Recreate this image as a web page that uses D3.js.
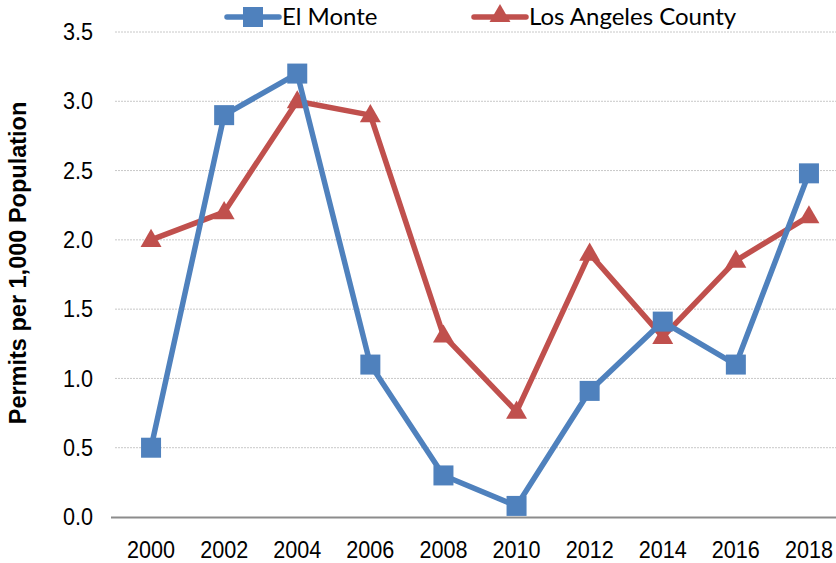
<!DOCTYPE html>
<html>
<head>
<meta charset="utf-8">
<script src="https://cdn.jsdelivr.net/npm/d3@7/dist/d3.min.js"></script>
<style>
  body { margin: 0; background: #fff; }
  svg { display: block; }
</style>
</head>
<body>
<svg id="chart" width="836" height="563"></svg>
<script>
// values
const years = ['2000', '2002', '2004', '2006', '2008', '2010', '2012', '2014', '2016', '2018'];
const elMonte = [0.5, 2.9, 3.2, 1.1, 0.3, 0.08, 0.91, 1.41, 1.1, 2.48];
const laCounty = [2.0, 2.2, 3.0, 2.9, 1.31, 0.76, 1.9, 1.3, 1.85, 2.17];
const yTicks = [0, 0.5, 1.0, 1.5, 2.0, 2.5, 3.0, 3.5];

const blue = '#4F81BD';
const red = '#C0504D';
const tickFont = '"Liberation Sans", Arial, sans-serif';

const svg = d3.select('#chart');

const x = d3.scaleBand().domain(years).range([114.5, 845.5]);
const y = d3.scaleLinear().domain([0, 3.5]).range([517, 32]);
const cx = d => x(d) + x.bandwidth() / 2;

// gridlines
svg.append('g')
    .selectAll('line')
    .data(yTicks.filter(d => d > 0))
    .enter().append('line')
    .attr('x1', 115).attr('x2', 836)
    .attr('y1', d => y(d)).attr('y2', d => y(d))
    .attr('stroke', '#c8c8c8')
    .attr('stroke-width', 1)
    .attr('stroke-dasharray', '2,1');

// y axis labels (slightly condensed like Arial Narrow)
const yAxis = svg.append('g')
    .attr('transform', 'translate(111,0)')
    .call(d3.axisLeft(y).tickValues(yTicks).tickFormat(d3.format('.1f')).tickSize(0));
yAxis.select('.domain').remove();
yAxis.selectAll('text')
    .attr('x', 0)
    .attr('transform', 'translate(-18,0) scale(0.9,1)')
    .attr('font-family', tickFont)
    .attr('font-size', 24)
    .attr('fill', '#000');

// x axis
const xAxis = svg.append('g')
    .attr('transform', 'translate(0,517)')
    .call(d3.axisBottom(x).tickSize(0).tickPadding(24));
xAxis.select('.domain').remove();
xAxis.selectAll('text')
    .attr('transform', 'scale(0.9,1)')
    .attr('font-family', tickFont)
    .attr('font-size', 24)
    .attr('fill', '#000');
svg.append('line')
    .attr('x1', 111).attr('x2', 836)
    .attr('y1', 517.5).attr('y2', 517.5)
    .attr('stroke', '#8c8c8c')
    .attr('stroke-width', 2);

// axis title
svg.append('text')
    .attr('transform', 'translate(26,263) rotate(-90)')
    .attr('text-anchor', 'middle')
    .attr('font-family', tickFont)
    .attr('font-weight', 'bold')
    .attr('font-size', 23.5)
    .text('Permits per 1,000 Population');

const line = d3.line()
    .x((d, i) => cx(years[i]))
    .y(d => y(d));

const triangle = d3.symbol().type(d3.symbolTriangle).size(190);

function drawSeries(values, color, marker) {
    const g = svg.append('g');
    g.append('path')
        .datum(values)
        .attr('d', line)
        .attr('fill', 'none')
        .attr('stroke', color)
        .attr('stroke-width', 5.5)
        .attr('stroke-linejoin', 'round');
    if (marker === 'square') {
        g.selectAll('rect')
            .data(values)
            .enter().append('rect')
            .attr('x', (d, i) => cx(years[i]) - 10)
            .attr('y', d => y(d) - 10)
            .attr('width', 20).attr('height', 20)
            .attr('fill', color);
    } else {
        g.selectAll('path.mk')
            .data(values)
            .enter().append('path')
            .attr('class', 'mk')
            .attr('d', triangle)
            .attr('transform', (d, i) => 'translate(' + cx(years[i]) + ',' + (y(d) + 1) + ')')
            .attr('fill', color);
    }
}

drawSeries(laCounty, red, 'triangle');
drawSeries(elMonte, blue, 'square');

// legend
const legend = [
    { label: 'El Monte', color: blue, marker: 'square', x: 227 },
    { label: 'Los Angeles County', color: red, marker: 'triangle', x: 474 }
];
legend.forEach(l => {
    const g = svg.append('g').attr('transform', 'translate(' + l.x + ',17)');
    g.append('line')
        .attr('x1', 0).attr('x2', 52)
        .attr('stroke', l.color).attr('stroke-width', 5.5)
        .attr('stroke-linecap', 'round');
    if (l.marker === 'square') {
        g.append('rect').attr('x', 16).attr('y', -10).attr('width', 20).attr('height', 20).attr('fill', l.color);
    } else {
        g.append('path').attr('d', triangle).attr('transform', 'translate(26,-1)').attr('fill', l.color);
    }
    g.append('text')
        .attr('x', 55).attr('y', 8)
        .attr('font-family', 'Lato, "Open Sans", sans-serif')
        .attr('font-size', 24)
        .attr('fill', '#000')
        .text(l.label);
});
</script>
</body>
</html>
